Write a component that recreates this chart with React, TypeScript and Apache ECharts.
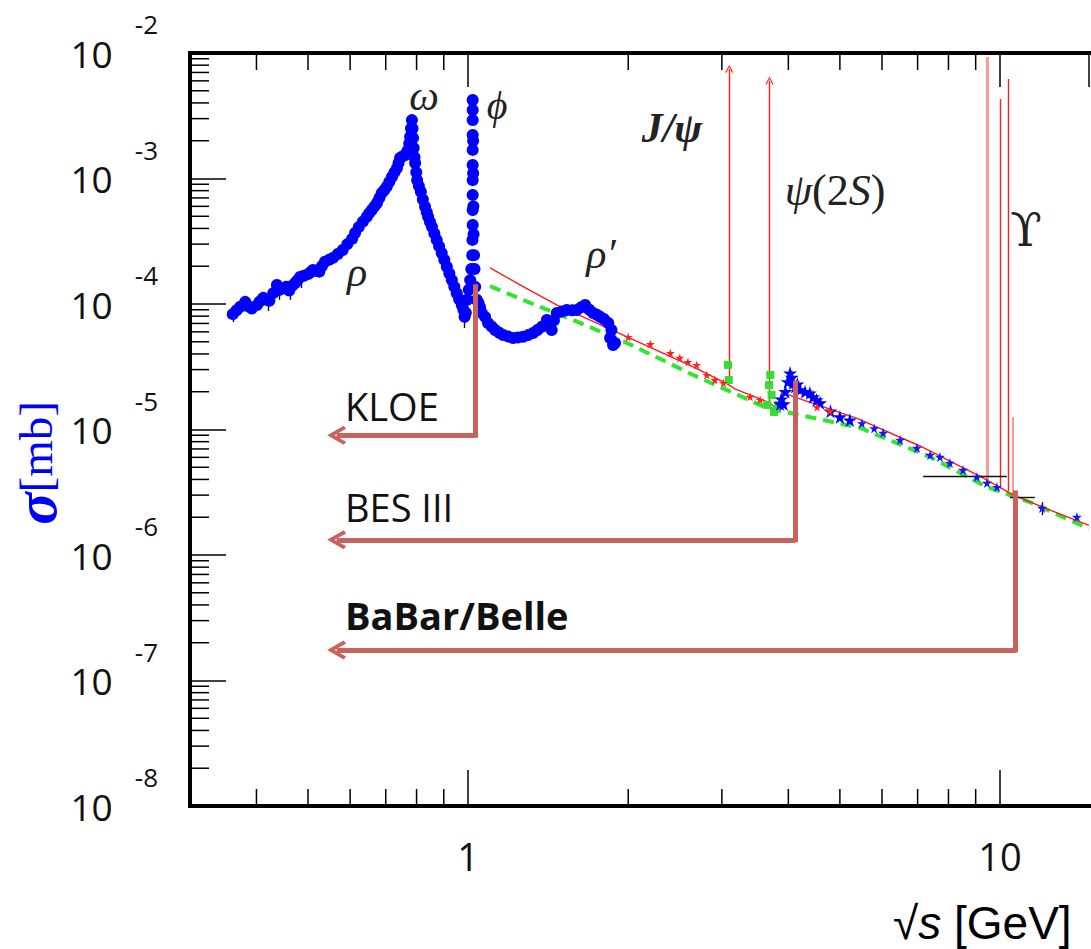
import React, { useEffect, useRef } from "react";
import * as echarts from "echarts";

// Axis ranges (GeV, mb)
const X_MIN = 0.3;
const X_MAX = 14.7;
const Y_MIN = 1e-8;
const Y_MAX = 1e-2;

const xTickLabels = [1, 10];
const xMinorTicks = [0.4, 0.5, 0.6, 0.7, 0.8, 0.9, 2, 3, 4, 5, 6, 7, 8, 9];
const yMinorMantissas = [2, 3, 4, 5, 6, 7, 8, 9];
const yDecades = [-8, -7, -6, -5, -4, -3];

// e+e- -> hadrons, low-energy region (rho, omega, phi, rho')
const hadronData: [number, number][] = [
  [0.361, 8.3e-5], [0.367, 8.9e-5], [0.373, 9.5e-5], [0.381, 1.04e-4], [0.386, 9.6e-5],
  [0.392, 9.2e-5], [0.401, 9.8e-5], [0.406, 1.05e-4], [0.412, 1.12e-4], [0.418, 1.08e-4],
  [0.423, 1.06e-4], [0.43, 1.22e-4], [0.437, 1.42e-4], [0.441, 1.29e-4], [0.448, 1.33e-4],
  [0.455, 1.37e-4], [0.461, 1.28e-4], [0.467, 1.4e-4], [0.473, 1.47e-4], [0.478, 1.55e-4],
  [0.483, 1.64e-4], [0.491, 1.68e-4], [0.5, 1.73e-4], [0.506, 1.8e-4], [0.511, 1.87e-4],
  [0.518, 1.84e-4], [0.525, 1.81e-4], [0.531, 2.0e-4], [0.538, 2.17e-4], [0.548, 2.25e-4],
  [0.557, 2.33e-4], [0.569, 2.5e-4], [0.581, 2.69e-4], [0.593, 3.0e-4], [0.605, 3.3e-4],
  [0.613, 3.68e-4], [0.623, 4.1e-4], [0.634, 4.53e-4], [0.645, 4.96e-4], [0.652, 5.3e-4],
  [0.659, 5.61e-4], [0.667, 6.0e-4], [0.674, 6.38e-4], [0.681, 7.0e-4], [0.688, 7.66e-4],
  [0.696, 8.1e-4], [0.703, 8.61e-4], [0.711, 9.4e-4], [0.719, 1.03e-3], [0.727, 1.12e-3],
  [0.735, 1.21e-3], [0.74, 1.33e-3], [0.745, 1.46e-3], [0.753, 1.5e-3], [0.761, 1.54e-3],
  [0.767, 1.62e-3], [0.771, 1.69e-3], [0.775, 1.9e-3], [0.778, 2.15e-3], [0.781, 2.5e-3],
  [0.784, 2.92e-3], [0.786, 2.5e-3], [0.788, 2.1e-3], [0.79, 1.75e-3], [0.793, 1.48e-3],
  [0.795, 1.33e-3], [0.799, 1.12e-3], [0.802, 9.7e-4], [0.808, 8.7e-4], [0.815, 7.85e-4],
  [0.822, 6.8e-4], [0.83, 5.96e-4], [0.836, 5.4e-4], [0.841, 4.96e-4], [0.848, 4.5e-4],
  [0.855, 4.13e-4], [0.864, 3.65e-4], [0.873, 3.24e-4], [0.882, 2.88e-4], [0.892, 2.55e-4],
  [0.902, 2.25e-4], [0.912, 1.98e-4], [0.922, 1.75e-4], [0.932, 1.55e-4], [0.942, 1.37e-4],
  [0.952, 1.22e-4], [0.962, 1.09e-4], [0.973, 9.8e-5], [0.98, 9.0e-5], [0.985, 7.9e-5],
  [0.99, 8.5e-5], [0.996, 1.08e-4], [1.003, 1.3e-4], [1.009, 1.55e-4], [1.014, 1.9e-4],
  [1.018, 2.45e-4], [1.019, 3.24e-4], [1.02, 4.26e-4], [1.02, 5.61e-4], [1.02, 7.4e-4],
  [1.02, 9.7e-4], [1.02, 1.28e-3], [1.02, 1.69e-3], [1.02, 2.22e-3], [1.02, 2.92e-3],
  [1.02, 3.51e-3], [1.02, 4.22e-3], [1.022, 2.0e-3], [1.022, 1.1e-3], [1.023, 6.0e-4],
  [1.024, 3.6e-4], [1.026, 2.45e-4], [1.028, 1.9e-4], [1.031, 1.37e-4], [1.038, 1.08e-4],
  [1.046, 1.02e-4], [1.053, 9.4e-5], [1.061, 8.5e-5], [1.076, 7.9e-5], [1.09, 7.06e-5],
  [1.108, 6.6e-5], [1.124, 6.2e-5], [1.144, 5.9e-5], [1.164, 5.66e-5], [1.19, 5.5e-5],
  [1.215, 5.36e-5], [1.24, 5.4e-5], [1.269, 5.49e-5], [1.297, 5.65e-5], [1.325, 5.88e-5],
  [1.35, 6.2e-5], [1.376, 6.59e-5], [1.406, 7.46e-5], [1.436, 6.21e-5], [1.45, 7.4e-5],
  [1.468, 8.48e-5], [1.5, 8.7e-5], [1.533, 8.96e-5], [1.57, 8.9e-5], [1.601, 8.96e-5],
  [1.63, 9.4e-5], [1.66, 9.81e-5], [1.69, 9.0e-5], [1.718, 8.48e-5], [1.746, 8.2e-5],
  [1.77, 7.92e-5], [1.8, 7.6e-5], [1.834, 7.06e-5], [1.849, 5.36e-5], [1.86, 6.2e-5],
  [1.873, 4.71e-5], [1.889, 4.9e-5],
];

// charm threshold region
const charmData: [number, number][] = [
  [3.86, 1.6e-5], [3.88, 1.75e-5], [3.92, 1.6e-5], [3.95, 2.0e-5], [3.99, 2.4e-5],
  [4.03, 2.82e-5], [4.06, 2.6e-5], [4.08, 2.35e-5], [4.12, 2.2e-5], [4.16, 2.3e-5],
  [4.21, 2.07e-5], [4.3, 2.0e-5], [4.39, 1.95e-5], [4.45, 1.82e-5], [4.52, 1.72e-5],
  [4.59, 1.63e-5], [4.8, 1.4e-5], [5.0, 1.26e-5], [5.22, 1.19e-5],
];

// continuum measurements above charm
const continuumStars: [number, number][] = [
  [5.5, 1.12e-5], [5.8, 1.02e-5], [6.03, 9.4e-6], [6.49, 8.25e-6], [6.98, 7.13e-6],
  [7.39, 6.27e-6], [7.71, 6.04e-6], [8.05, 5.41e-6], [8.52, 4.76e-6], [9.05, 4.19e-6],
  [9.45, 3.75e-6], [9.87, 3.48e-6], [12.0, 2.37e-6], [13.95, 2.01e-6],
];

const midEnergyStars: [number, number][] = [
  [2.0, 5.46e-5], [2.2, 4.8e-5], [2.4, 4.07e-5], [2.5, 3.72e-5], [2.59, 3.45e-5],
  [2.69, 3.27e-5], [2.81, 2.72e-5], [2.91, 2.48e-5], [3.02, 2.35e-5], [3.39, 1.82e-5],
  [3.54, 1.72e-5], [4.53, 1.51e-5], [4.79, 1.4e-5],
];

const resonanceScan: [number, number][] = [
  [3.08, 3.27e-5], [3.09, 2.48e-5], [3.65, 1.57e-5], [3.68, 2.26e-5], [3.7, 2.72e-5],
  [3.72, 1.88e-5], [3.76, 1.38e-5], [3.8, 1.45e-5], [3.83, 1.57e-5],
];

// perturbative QCD prediction
const pqcdCurve: [number, number][] = [
  [1.1, 1.94e-4], [1.252, 1.42e-4], [1.47, 9.81e-5], [1.99, 5.46e-5], [2.65, 3.15e-5],
  [3.07, 2.31e-5], [3.18, 2.1e-5], [3.65, 1.66e-5], [3.86, 1.43e-5], [3.91, 1.95e-5],
  [5.4, 1.22e-5], [7.07, 7.39e-6], [9.29, 4.11e-6], [10.58, 3.01e-6], [12.42, 2.28e-6],
  [14.7, 1.72e-6],
];

// naive quark-parton model
const partonCurve: [number, number][] = [
  [1.1, 1.39e-4], [1.308, 1.02e-4], [1.575, 7.46e-5], [1.99, 4.89e-5], [2.65, 2.72e-5],
  [3.65, 1.48e-5], [5.46, 1.03e-5], [7.39, 6.04e-6], [9.45, 3.48e-6], [11.38, 2.64e-6],
  [14.7, 1.62e-6],
];

// narrow vector resonances: mass, continuum level, drawn peak height
const psiStates = [
  { mass: 3.097, base: 2.31e-5, peak: 7.46e-3 },
  { mass: 3.686, base: 1.66e-5, peak: 6.01e-3 },
];
const upsilonStates = [
  { mass: 9.46, base: 3.9e-6, peak: 9.3e-3, width: 3, color: "rgba(255,70,70,0.55)" },
  { mass: 10.023, base: 3.4e-6, peak: 4.3e-3, width: 1.4, color: "#ff2020" },
  { mass: 10.355, base: 3.2e-6, peak: 6.2e-3, width: 1.4, color: "#ff2020" },
  { mass: 10.58, base: 3.05e-6, peak: 1.26e-5, width: 1.6, color: "rgba(255,70,70,0.7)" },
];

// error bars: [x1, y1, x2, y2]
const errorBars: [number, number, number, number][] = [
  [0.362, 7.87e-5, 0.362, 7.19e-5], [0.421, 1.02e-4, 0.421, 8.8e-5],
  [0.441, 1.22e-4, 0.441, 1.08e-4], [0.463, 1.22e-4, 0.463, 1.08e-4],
  [0.485, 1.5e-4, 0.485, 1.34e-4], [0.983, 8.48e-5, 0.983, 6.44e-5],
  [7.17, 4.26e-6, 10.3, 4.26e-6], [10.44, 2.9e-6, 11.63, 2.9e-6],
  [12.0, 2.64e-6, 12.0, 2.08e-6],
];

// experiments and the energy they sit at
const experiments = [
  { name: "KLOE", energy: 1.03, from: 1.37e-4, level: 9.0e-6, bold: false, labelY: 406 },
  { name: "BES III", energy: 4.12, from: 2.35e-5, level: 1.32e-6, bold: false, labelY: 507 },
  { name: "BaBar/Belle", energy: 10.7, from: 3.12e-6, level: 1.75e-7, bold: true, labelY: 615 },
];
const ARROW_END = 0.566;

const ARROW_COLOR = "#c8625c";
const chevronBig = "path://M0,17 L11,0 L22,17 L18.5,19.5 L11,7.5 L3.5,19.5 Z";
const chevronSmall = "path://M0,8 L5,0 L10,8 L8.8,8.7 L5,2.2 L1.2,8.7 Z";
const starPath = "path://M50,0 L61,35 L98,35 L68,57 L79,91 L50,70 L21,91 L32,57 L2,35 L39,35 Z";

const yMinorTicks: number[] = [];
yDecades.forEach((d) => yMinorMantissas.forEach((m) => yMinorTicks.push(m * Math.pow(10, d))));

const tickStyle = { stroke: "#000", lineWidth: 1.5 };

function buildOption(): echarts.EChartsCoreOption {
  const serif = "'Liberation Serif', 'DejaVu Serif', serif";
  const mathText = (text: string, x: number, y: number, extra: any = {}) => ({
    type: "text",
    x,
    y,
    silent: true,
    style: {
      text,
      fontFamily: serif,
      fontStyle: "italic",
      fontSize: 42,
      fill: "#222",
      align: "center",
      verticalAlign: "middle",
      ...extra,
    },
  });

  return {
    animation: false,
    backgroundColor: "#fff",
    grid: { left: 190, top: 53, right: 2, bottom: 143, containLabel: false },
    xAxis: [
      {
        type: "log",
        logBase: 10,
        min: X_MIN,
        max: X_MAX,
        position: "bottom",
        axisLine: { lineStyle: { color: "#000", width: 4, cap: "square" } },
        axisTick: { inside: true, length: 36, lineStyle: { color: "#000", width: 1.5 } },
        axisLabel: {
          margin: 31,
          fontSize: 38,
          fontFamily: "'Open Sans', sans-serif",
          color: "#111",
          showMinLabel: false,
          showMaxLabel: false,
          formatter: (v: number) => {
            const r = Math.round(v * 1000) / 1000;
            return xTickLabels.includes(r) ? String(r) : "";
          },
        },
        splitLine: { show: false },
      },
      {
        type: "log",
        logBase: 10,
        min: X_MIN,
        max: X_MAX,
        position: "top",
        axisLine: { lineStyle: { color: "#000", width: 4, cap: "square" } },
        axisTick: { inside: true, length: 34, lineStyle: { color: "#000", width: 1.5 } },
        axisLabel: { show: false },
        splitLine: { show: false },
      },
    ],
    yAxis: {
      type: "log",
      logBase: 10,
      min: Y_MIN,
      max: Y_MAX,
      splitNumber: 6,
      axisLine: { show: true, lineStyle: { color: "#000", width: 4, cap: "square" } },
      axisTick: { inside: true, length: 36, lineStyle: { color: "#000", width: 1.5 } },
      axisLabel: {
        margin: 32,
        formatter: (v: number) => `{b|10}{e|${Math.round(Math.log10(v))}}`,
        rich: {
          b: { fontSize: 37, fontFamily: "'Open Sans', sans-serif", color: "#111", padding: [0, 22, 0, 0] },
          e: { fontSize: 26, fontFamily: "'Open Sans', sans-serif", color: "#111", padding: [0, 0, 58, 0] },
        },
      },
      splitLine: { show: false },
    },
    series: [
      {
        type: "custom",
        name: "x minor ticks",
        coordinateSystem: "cartesian2d",
        silent: true,
        z: 5,
        data: xMinorTicks.map((v) => [v, Y_MIN]),
        renderItem: (_p: any, api: any) => {
          const v = api.value(0);
          const b = api.coord([v, Y_MIN]);
          const t = api.coord([v, Y_MAX]);
          return {
            type: "group",
            children: [
              { type: "line", shape: { x1: b[0], y1: b[1], x2: b[0], y2: b[1] - 17 }, style: tickStyle },
              { type: "line", shape: { x1: t[0], y1: t[1], x2: t[0], y2: t[1] + 17 }, style: tickStyle },
            ],
          };
        },
      },
      {
        type: "custom",
        name: "y minor ticks",
        coordinateSystem: "cartesian2d",
        silent: true,
        z: 5,
        data: yMinorTicks.map((v) => [X_MIN, v]),
        renderItem: (_p: any, api: any) => {
          const p = api.coord([X_MIN, api.value(1)]);
          return { type: "line", shape: { x1: p[0], y1: p[1], x2: p[0] + 19, y2: p[1] }, style: tickStyle };
        },
      },
      {
        type: "line",
        name: "parton model",
        data: partonCurve,
        showSymbol: false,
        z: 2,
        lineStyle: { color: "#2fe62f", width: 4, type: [11, 7] },
      },
      {
        type: "line",
        name: "pQCD",
        data: pqcdCurve,
        showSymbol: false,
        z: 3,
        lineStyle: { color: "#ff1a1a", width: 1.4 },
      },
      {
        type: "lines",
        name: "psi resonances",
        coordinateSystem: "cartesian2d",
        silent: true,
        z: 3,
        symbol: ["none", chevronSmall],
        symbolSize: [10, 8],
        lineStyle: { color: "#ff1a1a", width: 1.4, opacity: 1 },
        data: psiStates.map((s) => ({ coords: [[s.mass, s.base], [s.mass, s.peak]] })),
      },
      {
        type: "lines",
        name: "upsilon resonances",
        coordinateSystem: "cartesian2d",
        silent: true,
        z: 3,
        symbol: "none",
        data: upsilonStates.map((s) => ({
          coords: [[s.mass, s.base], [s.mass, s.peak]],
          lineStyle: { color: s.color, width: s.width, opacity: 1 },
        })),
      },
      {
        type: "scatter",
        name: "resonance scan",
        data: resonanceScan,
        symbol: "rect",
        symbolSize: 8,
        z: 4,
        itemStyle: { color: "#33dd33", opacity: 1 },
      },
      {
        type: "scatter",
        name: "hadrons",
        data: hadronData,
        symbol: "circle",
        symbolSize: 12,
        z: 4,
        itemStyle: { color: "#0000ff", opacity: 1 },
      },
      {
        type: "scatter",
        name: "charm region",
        data: charmData,
        symbol: starPath,
        symbolSize: 14,
        z: 4,
        itemStyle: { color: "#0000ff", opacity: 1 },
      },
      {
        type: "scatter",
        name: "continuum",
        data: continuumStars,
        symbol: starPath,
        symbolSize: 10,
        z: 4,
        itemStyle: { color: "#1515ff", opacity: 1 },
      },
      {
        type: "scatter",
        name: "mid energy",
        data: midEnergyStars,
        symbol: starPath,
        symbolSize: 9,
        z: 4,
        itemStyle: { color: "#ff2020", opacity: 1 },
      },
      {
        type: "lines",
        name: "error bars",
        coordinateSystem: "cartesian2d",
        silent: true,
        z: 4,
        symbol: "none",
        lineStyle: { color: "#111", width: 1.4, opacity: 1 },
        data: errorBars.map((e) => ({ coords: [[e[0], e[1]], [e[2], e[3]]] })),
      },
      {
        type: "lines",
        name: "experiment drops",
        coordinateSystem: "cartesian2d",
        silent: true,
        z: 6,
        symbol: "none",
        lineStyle: { color: ARROW_COLOR, width: 5, opacity: 1, cap: "square" },
        data: experiments.map((e) => ({ coords: [[e.energy, e.from], [e.energy, e.level]] })),
      },
      {
        type: "lines",
        name: "experiment arrows",
        coordinateSystem: "cartesian2d",
        silent: true,
        z: 6,
        symbol: ["none", chevronBig],
        symbolSize: [22, 19],
        itemStyle: { color: ARROW_COLOR },
        lineStyle: { color: ARROW_COLOR, width: 5, opacity: 1 },
        data: experiments.map((e) => ({ coords: [[e.energy, e.level], [ARROW_END, e.level]] })),
      },
    ],
    graphic: [
      // axis titles
      {
        type: "text",
        x: 36,
        y: 463,
        rotation: Math.PI / 2,
        silent: true,
        style: {
          text: "{s|σ}{u|[mb]}",
          align: "center",
          verticalAlign: "middle",
          rich: {
            s: { fontSize: 60, fontWeight: "bold", fontStyle: "italic", fontFamily: serif, fill: "#0000ff" },
            u: { fontSize: 47, fontFamily: serif, fill: "#0000ff" },
          },
        },
      },
      {
        type: "text",
        x: 893,
        y: 923,
        silent: true,
        style: {
          text: "{n|√}{i|s}{n| [GeV]}",
          align: "left",
          verticalAlign: "middle",
          rich: {
            n: { fontSize: 46, fontFamily: "'Liberation Sans', Arial, sans-serif", fill: "#000" },
            i: { fontSize: 46, fontStyle: "italic", fontFamily: "'Liberation Sans', Arial, sans-serif", fill: "#000" },
          },
        },
      },
      // resonance names
      mathText("ρ", 357, 272),
      mathText("ω", 424, 96),
      mathText("ϕ", 497, 105, { fontSize: 40 }),
      mathText("ρ′", 601, 254),
      mathText("J/ψ", 672, 128, { fontWeight: "bold" }),
      {
        type: "text",
        x: 835,
        y: 190,
        silent: true,
        style: {
          text: "{i|ψ}{n|(2}{i|S}{n|)}",
          align: "center",
          verticalAlign: "middle",
          rich: {
            i: { fontSize: 44, fontStyle: "italic", fontFamily: serif, fill: "#222" },
            n: { fontSize: 44, fontFamily: serif, fill: "#222" },
          },
        },
      },
      mathText("ϒ", 1026, 230, { fontStyle: "normal", fontSize: 46, fontFamily: "'DejaVu Serif', serif" }),
      // experiment names
      ...experiments.map((e) => ({
        type: "text",
        x: 345,
        y: e.labelY,
        silent: true,
        style: {
          text: e.name,
          fontSize: 38,
          fontWeight: e.bold ? "bold" : "normal",
          fontFamily: "'Open Sans', sans-serif",
          fill: "#111",
          align: "left",
          verticalAlign: "middle",
        },
      })),
    ],
  };
}

export default function App() {
  const ref = useRef<HTMLDivElement>(null);
  useEffect(() => {
    if (!ref.current) return;
    const chart = echarts.init(ref.current, undefined, { renderer: "svg" });
    chart.setOption(buildOption());
    return () => chart.dispose();
  }, []);
  return (
    <div
      ref={ref}
      style={{ position: "fixed", left: 0, top: 0, width: 1091, height: 949, background: "#fff" }}
    />
  );
}
